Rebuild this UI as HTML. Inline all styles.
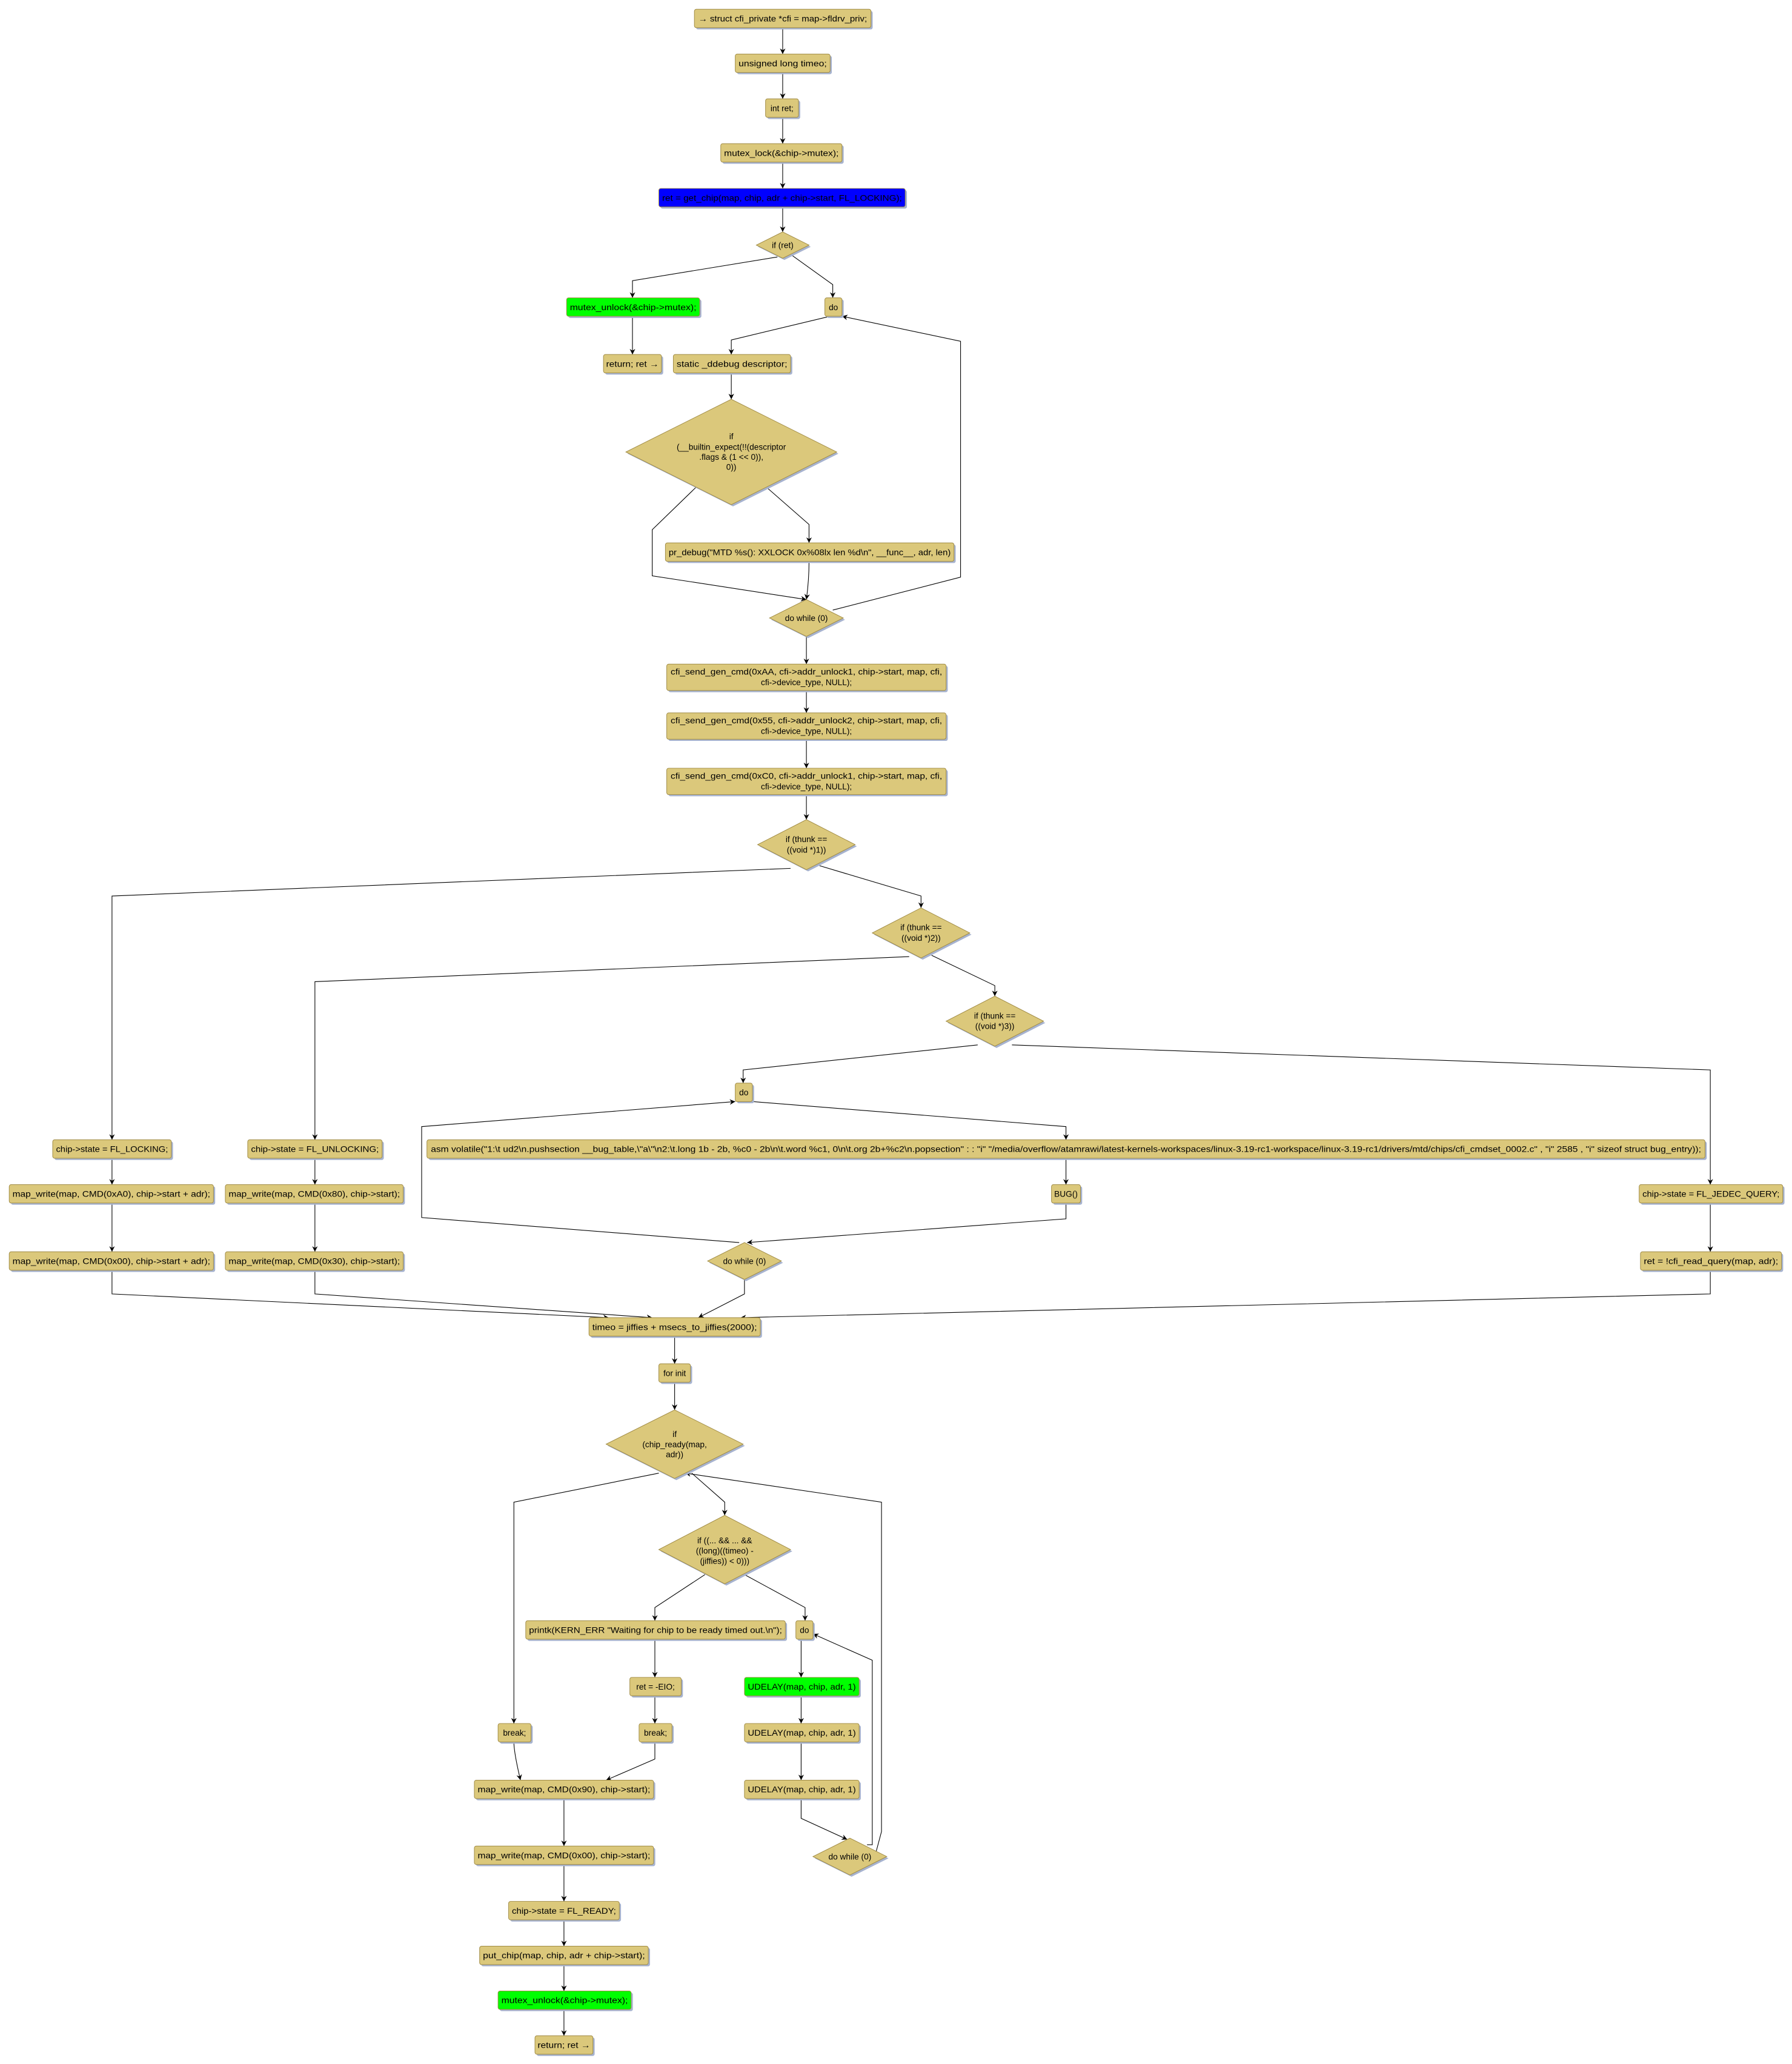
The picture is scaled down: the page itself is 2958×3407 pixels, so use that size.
<!DOCTYPE html>
<html><head><meta charset="utf-8"><style>
html,body{margin:0;padding:0;background:#fff;}
svg{display:block;}
text{font-family:"Liberation Sans","DejaVu Sans",sans-serif;font-size:6.3px;fill:#000;}
.b{fill:#dbc87b;stroke:#a08b45;stroke-width:0.45;}
.s{fill:#a7b3cf;}
.e{fill:none;stroke:#000;stroke-width:0.5;}
</style></head><body>
<svg width="2958" height="3407" viewBox="0 0 1360 1566.4" xmlns="http://www.w3.org/2000/svg">
<defs><marker id="a" markerWidth="4.2" markerHeight="4.2" refX="8" refY="4" orient="auto" markerUnits="userSpaceOnUse" viewBox="0 0 8 8"><path d="M0,0 L8,4 L0,8 L2.5,4z" fill="#000"/></marker></defs>

<!-- edges -->
<g class="e" marker-end="url(#a)">
<path d="M594,21 V41"/><path d="M594,55 V75"/><path d="M594,89 V109"/><path d="M594,123 V143"/><path d="M594,157 V176"/>
<path d="M590,195 L480,213 V226"/>
<path d="M600,193 L632,216 V226"/>
<path d="M480,240 V269"/>
<path d="M630,240 L555,258 V269"/>
<path d="M555,283 V303"/>
<path d="M528,370 L495,402 V437 L612,455"/>
<path d="M582,370 L614,398 V412"/>
<path d="M614,426 Q614,440 612,455"/>
<path d="M632,463 L729,438 V259 L639,240"/>
<path d="M612,483 V504"/><path d="M612,524 V541"/><path d="M612,561 V583"/><path d="M612,603 V622"/>
<path d="M600,659 L85,680 V865"/>
<path d="M622,657 L699,680 V689"/>
<path d="M690,726 L239,745 V865"/>
<path d="M707,725 L755,748 V756"/>
<path d="M742,793 L564,812 V822"/>
<path d="M768,793 L1298,812 V899"/>
<path d="M571,836 L809,855 V865"/>
<path d="M809,879 V899"/>
<path d="M809,913 V925 L567,943"/>
<path d="M561,943 L320,924 V855 L558,836"/>
<path d="M565,971 V982 L530,1000"/>
<path d="M85,879 V899"/><path d="M85,913 V950"/>
<path d="M85,964 V982 L462,1000"/>
<path d="M239,879 V899"/><path d="M239,913 V950"/>
<path d="M239,964 V982 L495,1000"/>
<path d="M1298,913 V950"/>
<path d="M1298,964 V982 L562,1000"/>
<path d="M512,1014 V1035"/><path d="M512,1049 V1070"/>
<path d="M500,1118 L390,1140 V1308"/>
<path d="M525,1118 L550,1140 V1150"/>
<path d="M535,1195 L497,1220 V1230"/>
<path d="M565,1195 L611,1220 V1230"/>
<path d="M497,1244 V1273"/><path d="M497,1287 V1308"/>
<path d="M497,1322 V1335 L460,1351"/>
<path d="M390,1322 Q390,1330 395,1351"/>
<path d="M608,1244 V1273"/><path d="M608,1287 V1308"/><path d="M608,1322 V1351"/>
<path d="M608,1365 V1380 L643,1396"/>
<path d="M658,1400 L662,1400 V1260 L617,1240"/>
<path d="M665,1405 L669,1390 V1140 L520,1118"/>
<path d="M428,1365 V1401"/><path d="M428,1415 V1443"/><path d="M428,1457 V1477"/><path d="M428,1491 V1511"/><path d="M428,1525 V1545"/>
</g>

<!-- boxes -->
<g id="boxes">
<rect class="s" x="528.3" y="8.3" width="134" height="14" rx="1.5"/><rect class="b" x="527" y="7" width="134" height="14" rx="1.5"/><text x="594" y="16.3" text-anchor="middle" textLength="128" lengthAdjust="spacingAndGlyphs">→ struct cfi_private *cfi = map-&gt;fldrv_priv;</text>
<rect class="s" x="559.3" y="42.3" width="72" height="14" rx="1.5"/><rect class="b" x="558" y="41" width="72" height="14" rx="1.5"/><text x="594" y="50.3" text-anchor="middle" textLength="67" lengthAdjust="spacingAndGlyphs">unsigned long timeo;</text>
<rect class="s" x="582.3" y="76.3" width="25" height="14" rx="1.5"/><rect class="b" x="581" y="75" width="25" height="14" rx="1.5"/><text x="593.5" y="84.3" text-anchor="middle">int ret;</text>
<rect class="s" x="548.3" y="110.3" width="92" height="14" rx="1.5"/><rect class="b" x="547" y="109" width="92" height="14" rx="1.5"/><text x="593" y="118.3" text-anchor="middle" textLength="87" lengthAdjust="spacingAndGlyphs">mutex_lock(&amp;chip-&gt;mutex);</text>
<rect class="s" x="501.3" y="144.3" width="187" height="14" rx="1.5"/><rect x="500" y="143" width="187" height="14" rx="1.5" fill="#0000ff" stroke="#a08b45" stroke-width="0.45"/><text x="593.5" y="152.3" text-anchor="middle" textLength="182" lengthAdjust="spacingAndGlyphs">ret = get_chip(map, chip, adr + chip-&gt;start, FL_LOCKING);</text>
<rect class="s" x="431.3" y="227.3" width="101" height="14" rx="1.5"/><rect x="430" y="226" width="101" height="14" rx="1.5" fill="#00ff00" stroke="#a08b45" stroke-width="0.45"/><text x="480.5" y="235.3" text-anchor="middle" textLength="96" lengthAdjust="spacingAndGlyphs">mutex_unlock(&amp;chip-&gt;mutex);</text>
<rect class="s" x="459.3" y="270.3" width="44" height="14" rx="1.5"/><rect class="b" x="458" y="269" width="44" height="14" rx="1.5"/><text x="480" y="278.3" text-anchor="middle" textLength="40" lengthAdjust="spacingAndGlyphs">return; ret →</text>
<rect class="s" x="627.3" y="227.3" width="13" height="14" rx="1.5"/><rect class="b" x="626" y="226" width="13" height="14" rx="1.5"/><text x="632.5" y="235.3" text-anchor="middle">do</text>
<rect class="s" x="512.3" y="270.3" width="89" height="14" rx="1.5"/><rect class="b" x="511" y="269" width="89" height="14" rx="1.5"/><text x="555.5" y="278.3" text-anchor="middle" textLength="84" lengthAdjust="spacingAndGlyphs">static _ddebug descriptor;</text>
<rect class="s" x="506.3" y="413.3" width="219" height="14" rx="1.5"/><rect class="b" x="505" y="412" width="219" height="14" rx="1.5"/><text x="614.5" y="421.3" text-anchor="middle" textLength="214" lengthAdjust="spacingAndGlyphs">pr_debug("MTD %s(): XXLOCK 0x%08lx len %d\n", __func__, adr, len)</text>
<rect class="s" x="507.3" y="505.3" width="212" height="20" rx="1.5"/><rect class="b" x="506" y="504" width="212" height="20" rx="1.5"/><text x="612" y="512" text-anchor="middle" textLength="206" lengthAdjust="spacingAndGlyphs">cfi_send_gen_cmd(0xAA, cfi-&gt;addr_unlock1, chip-&gt;start, map, cfi,</text><text x="612" y="520" text-anchor="middle">cfi-&gt;device_type, NULL);</text>
<rect class="s" x="507.3" y="542.3" width="212" height="20" rx="1.5"/><rect class="b" x="506" y="541" width="212" height="20" rx="1.5"/><text x="612" y="549" text-anchor="middle" textLength="206" lengthAdjust="spacingAndGlyphs">cfi_send_gen_cmd(0x55, cfi-&gt;addr_unlock2, chip-&gt;start, map, cfi,</text><text x="612" y="557" text-anchor="middle">cfi-&gt;device_type, NULL);</text>
<rect class="s" x="507.3" y="584.3" width="212" height="20" rx="1.5"/><rect class="b" x="506" y="583" width="212" height="20" rx="1.5"/><text x="612" y="591" text-anchor="middle" textLength="206" lengthAdjust="spacingAndGlyphs">cfi_send_gen_cmd(0xC0, cfi-&gt;addr_unlock1, chip-&gt;start, map, cfi,</text><text x="612" y="599" text-anchor="middle">cfi-&gt;device_type, NULL);</text>
<rect class="s" x="559.3" y="823.3" width="13" height="14" rx="1.5"/><rect class="b" x="558" y="822" width="13" height="14" rx="1.5"/><text x="564.5" y="831.3" text-anchor="middle">do</text>
<rect class="s" x="325.3" y="866.3" width="970" height="14" rx="1.5"/><rect class="b" x="324" y="865" width="970" height="14" rx="1.5"/><text x="809" y="874.3" text-anchor="middle" textLength="964" lengthAdjust="spacingAndGlyphs">asm volatile("1:\t ud2\n.pushsection __bug_table,\"a\"\n2:\t.long 1b - 2b, %c0 - 2b\n\t.word %c1, 0\n\t.org 2b+%c2\n.popsection" : : "i" "/media/overflow/atamrawi/latest-kernels-workspaces/linux-3.19-rc1-workspace/linux-3.19-rc1/drivers/mtd/chips/cfi_cmdset_0002.c" , "i" 2585 , "i" sizeof struct bug_entry));</text>
<rect class="s" x="799.3" y="900.3" width="22" height="14" rx="1.5"/><rect class="b" x="798" y="899" width="22" height="14" rx="1.5"/><text x="809" y="908.3" text-anchor="middle">BUG()</text>
<rect class="s" x="41.3" y="866.3" width="90" height="14" rx="1.5"/><rect class="b" x="40" y="865" width="90" height="14" rx="1.5"/><text x="85" y="874.3" text-anchor="middle" textLength="85" lengthAdjust="spacingAndGlyphs">chip-&gt;state = FL_LOCKING;</text>
<rect class="s" x="8.3" y="900.3" width="155" height="14" rx="1.5"/><rect class="b" x="7" y="899" width="155" height="14" rx="1.5"/><text x="84.5" y="908.3" text-anchor="middle" textLength="150" lengthAdjust="spacingAndGlyphs">map_write(map, CMD(0xA0), chip-&gt;start + adr);</text>
<rect class="s" x="8.3" y="951.3" width="155" height="14" rx="1.5"/><rect class="b" x="7" y="950" width="155" height="14" rx="1.5"/><text x="84.5" y="959.3" text-anchor="middle" textLength="150" lengthAdjust="spacingAndGlyphs">map_write(map, CMD(0x00), chip-&gt;start + adr);</text>
<rect class="s" x="189.3" y="866.3" width="102" height="14" rx="1.5"/><rect class="b" x="188" y="865" width="102" height="14" rx="1.5"/><text x="239" y="874.3" text-anchor="middle" textLength="97" lengthAdjust="spacingAndGlyphs">chip-&gt;state = FL_UNLOCKING;</text>
<rect class="s" x="172.3" y="900.3" width="135" height="14" rx="1.5"/><rect class="b" x="171" y="899" width="135" height="14" rx="1.5"/><text x="238.5" y="908.3" text-anchor="middle" textLength="130" lengthAdjust="spacingAndGlyphs">map_write(map, CMD(0x80), chip-&gt;start);</text>
<rect class="s" x="172.3" y="951.3" width="135" height="14" rx="1.5"/><rect class="b" x="171" y="950" width="135" height="14" rx="1.5"/><text x="238.5" y="959.3" text-anchor="middle" textLength="130" lengthAdjust="spacingAndGlyphs">map_write(map, CMD(0x30), chip-&gt;start);</text>
<rect class="s" x="1245.3" y="900.3" width="109" height="14" rx="1.5"/><rect class="b" x="1244" y="899" width="109" height="14" rx="1.5"/><text x="1298.5" y="908.3" text-anchor="middle" textLength="104" lengthAdjust="spacingAndGlyphs">chip-&gt;state = FL_JEDEC_QUERY;</text>
<rect class="s" x="1246.3" y="951.3" width="107" height="14" rx="1.5"/><rect class="b" x="1245" y="950" width="107" height="14" rx="1.5"/><text x="1298.5" y="959.3" text-anchor="middle" textLength="102" lengthAdjust="spacingAndGlyphs">ret = !cfi_read_query(map, adr);</text>
<rect class="s" x="448.3" y="1001.3" width="130" height="14" rx="1.5"/><rect class="b" x="447" y="1000" width="130" height="14" rx="1.5"/><text x="512" y="1009.3" text-anchor="middle" textLength="125" lengthAdjust="spacingAndGlyphs">timeo = jiffies + msecs_to_jiffies(2000);</text>
<rect class="s" x="501.3" y="1036.3" width="24" height="14" rx="1.5"/><rect class="b" x="500" y="1035" width="24" height="14" rx="1.5"/><text x="512" y="1044.3" text-anchor="middle">for init</text>
<rect class="s" x="400.3" y="1231.3" width="197" height="14" rx="1.5"/><rect class="b" x="399" y="1230" width="197" height="14" rx="1.5"/><text x="497.5" y="1239.3" text-anchor="middle" textLength="192" lengthAdjust="spacingAndGlyphs">printk(KERN_ERR "Waiting for chip to be ready timed out.\n");</text>
<rect class="s" x="605.3" y="1231.3" width="13" height="14" rx="1.5"/><rect class="b" x="604" y="1230" width="13" height="14" rx="1.5"/><text x="610.5" y="1239.3" text-anchor="middle">do</text>
<rect class="s" x="379.3" y="1309.3" width="25" height="14" rx="1.5"/><rect class="b" x="378" y="1308" width="25" height="14" rx="1.5"/><text x="390.5" y="1317.3" text-anchor="middle">break;</text>
<rect class="s" x="479.3" y="1274.3" width="39" height="14" rx="1.5"/><rect class="b" x="478" y="1273" width="39" height="14" rx="1.5"/><text x="497.5" y="1282.3" text-anchor="middle">ret = -EIO;</text>
<rect class="s" x="486.3" y="1309.3" width="25" height="14" rx="1.5"/><rect class="b" x="485" y="1308" width="25" height="14" rx="1.5"/><text x="497.5" y="1317.3" text-anchor="middle">break;</text>
<rect class="s" x="566.3" y="1274.3" width="87" height="14" rx="1.5"/><rect x="565" y="1273" width="87" height="14" rx="1.5" fill="#00ff00" stroke="#a08b45" stroke-width="0.45"/><text x="608.5" y="1282.3" text-anchor="middle" textLength="82" lengthAdjust="spacingAndGlyphs">UDELAY(map, chip, adr, 1)</text>
<rect class="s" x="566.3" y="1309.3" width="87" height="14" rx="1.5"/><rect class="b" x="565" y="1308" width="87" height="14" rx="1.5"/><text x="608.5" y="1317.3" text-anchor="middle" textLength="82" lengthAdjust="spacingAndGlyphs">UDELAY(map, chip, adr, 1)</text>
<rect class="s" x="566.3" y="1352.3" width="87" height="14" rx="1.5"/><rect class="b" x="565" y="1351" width="87" height="14" rx="1.5"/><text x="608.5" y="1360.3" text-anchor="middle" textLength="82" lengthAdjust="spacingAndGlyphs">UDELAY(map, chip, adr, 1)</text>
<rect class="s" x="361.3" y="1352.3" width="136" height="14" rx="1.5"/><rect class="b" x="360" y="1351" width="136" height="14" rx="1.5"/><text x="428" y="1360.3" text-anchor="middle" textLength="131" lengthAdjust="spacingAndGlyphs">map_write(map, CMD(0x90), chip-&gt;start);</text>
<rect class="s" x="361.3" y="1402.3" width="136" height="14" rx="1.5"/><rect class="b" x="360" y="1401" width="136" height="14" rx="1.5"/><text x="428" y="1410.3" text-anchor="middle" textLength="131" lengthAdjust="spacingAndGlyphs">map_write(map, CMD(0x00), chip-&gt;start);</text>
<rect class="s" x="387.3" y="1444.3" width="84" height="14" rx="1.5"/><rect class="b" x="386" y="1443" width="84" height="14" rx="1.5"/><text x="428" y="1452.3" text-anchor="middle" textLength="79" lengthAdjust="spacingAndGlyphs">chip-&gt;state = FL_READY;</text>
<rect class="s" x="365.3" y="1478.3" width="128" height="14" rx="1.5"/><rect class="b" x="364" y="1477" width="128" height="14" rx="1.5"/><text x="428" y="1486.3" text-anchor="middle" textLength="123" lengthAdjust="spacingAndGlyphs">put_chip(map, chip, adr + chip-&gt;start);</text>
<rect class="s" x="379.3" y="1512.3" width="101" height="14" rx="1.5"/><rect x="378" y="1511" width="101" height="14" rx="1.5" fill="#00ff00" stroke="#a08b45" stroke-width="0.45"/><text x="428.5" y="1520.3" text-anchor="middle" textLength="96" lengthAdjust="spacingAndGlyphs">mutex_unlock(&amp;chip-&gt;mutex);</text>
<rect class="s" x="407.3" y="1546.3" width="44" height="14" rx="1.5"/><rect class="b" x="406" y="1545" width="44" height="14" rx="1.5"/><text x="428" y="1554.3" text-anchor="middle" textLength="40" lengthAdjust="spacingAndGlyphs">return; ret →</text>
</g>

<!-- diamonds -->
<g>
<polygon class="s" points="575.3,187.3 595.3,177.3 615.3,187.3 595.3,197.3"/><polygon class="b" points="574,186 594,176 614,186 594,196"/><text x="594" y="188.3" text-anchor="middle">if (ret)</text>

<polygon class="s" points="476.3,344.3 556.3,304.3 636.3,344.3 556.3,384.3"/><polygon class="b" points="475,343 555,303 635,343 555,383"/>
<text x="555" y="333.3" text-anchor="middle">if</text><text x="555" y="341.3" text-anchor="middle">(__builtin_expect(!!(descriptor</text><text x="555" y="349" text-anchor="middle">.flags &amp; (1 &lt;&lt; 0)),</text><text x="555" y="356.5" text-anchor="middle">0))</text>

<polygon class="s" points="585.3,470.3 613.3,456.3 641.3,470.3 613.3,484.3"/><polygon class="b" points="584,469 612,455 640,469 612,483"/><text x="612" y="471.3" text-anchor="middle">do while (0)</text>

<polygon class="s" points="576.3,642.3 613.3,623.3 650.3,642.3 613.3,661.3"/><polygon class="b" points="575,641 612,622 649,641 612,660"/><text x="612" y="639" text-anchor="middle">if (thunk ==</text><text x="612" y="647" text-anchor="middle">((void *)1))</text>

<polygon class="s" points="663.3,709.3 700.3,690.3 737.3,709.3 700.3,728.3"/><polygon class="b" points="662,708 699,689 736,708 699,727"/><text x="699" y="706" text-anchor="middle">if (thunk ==</text><text x="699" y="714" text-anchor="middle">((void *)2))</text>

<polygon class="s" points="719.3,776.3 756.3,757.3 793.3,776.3 756.3,795.3"/><polygon class="b" points="718,775 755,756 792,775 755,794"/><text x="755" y="773" text-anchor="middle">if (thunk ==</text><text x="755" y="781" text-anchor="middle">((void *)3))</text>

<polygon class="s" points="538.3,958.3 566.3,944.3 594.3,958.3 566.3,972.3"/><polygon class="b" points="537,957 565,943 593,957 565,971"/><text x="565" y="959.3" text-anchor="middle">do while (0)</text>

<polygon class="s" points="461.3,1097.3 513.3,1071.3 565.3,1097.3 513.3,1123.3"/><polygon class="b" points="460,1096 512,1070 564,1096 512,1122"/><text x="512" y="1090.5" text-anchor="middle">if</text><text x="512" y="1098.3" text-anchor="middle">(chip_ready(map,</text><text x="512" y="1106" text-anchor="middle">adr))</text>

<polygon class="s" points="501.3,1177.3 551.3,1151.3 601.3,1177.3 551.3,1203.3"/><polygon class="b" points="500,1176 550,1150 600,1176 550,1202"/><text x="550" y="1171.3" text-anchor="middle">if ((... &amp;&amp; ... &amp;&amp;</text><text x="550" y="1179" text-anchor="middle">((long)((timeo) -</text><text x="550" y="1186.8" text-anchor="middle">(jiffies)) &lt; 0)))</text>

<polygon class="s" points="618.3,1410.3 646.3,1396.3 674.3,1410.3 646.3,1424.3"/><polygon class="b" points="617,1409 645,1395 673,1409 645,1423"/><text x="645" y="1411.3" text-anchor="middle">do while (0)</text>
</g>
</svg>
</body></html>
